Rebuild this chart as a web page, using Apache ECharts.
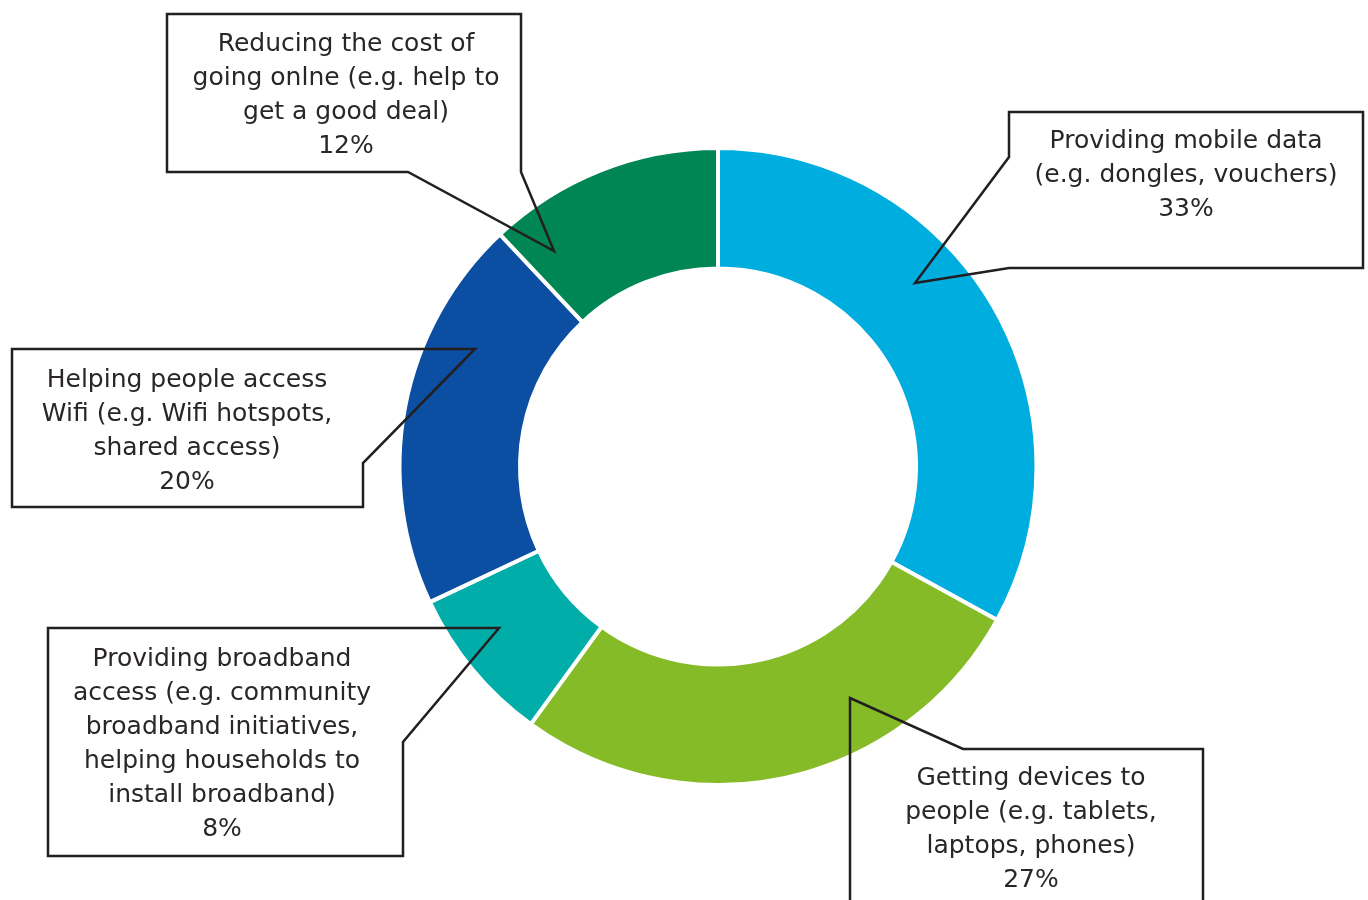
<!DOCTYPE html>
<html>
<head>
<meta charset="utf-8">
<script src="https://cdn.jsdelivr.net/npm/echarts@6/dist/echarts.min.js"></script>
<style>
  html, body { margin: 0; padding: 0; background: #fff; }
  #main { width: 1368px; height: 900px; }
</style>
</head>
<body>
<div id="main"></div>
<script>
// categories + values (clockwise from 12 o'clock)
const categories = [
  'Providing mobile data\n(e.g. dongles, vouchers)',
  'Getting devices to\npeople (e.g. tablets,\nlaptops, phones)',
  'Providing broadband\naccess (e.g. community\nbroadband initiatives,\nhelping households to\ninstall broadband)',
  'Helping people access\nWifi (e.g. Wifi hotspots,\nshared access)',
  'Reducing the cost of\ngoing onlne (e.g. help to\nget a good deal)'
];
const values = [33, 27, 8, 20, 12];
const colors = ['#00ADDF', '#84BB27', '#00ADA8', '#0C4EA2', '#008555'];

// where each callout text sits
const labelCenters = [[1186, 175], [1031, 829], [222, 744], [187, 431], [346, 95]];
// callout outlines
const callouts = [
  [[1009, 112], [1363, 112], [1363, 268], [1009, 268], [915, 283], [1009, 157]],
  [[850, 698], [963, 749], [1203, 749], [1203, 912], [850, 912]],
  [[48, 628], [499, 628], [403, 742], [403, 856], [48, 856]],
  [[12, 349], [475, 349], [363, 463], [363, 507], [12, 507]],
  [[167, 14], [521, 14], [521, 172], [554, 251], [408, 172], [167, 172]]
];

let myChart = echarts.init(document.getElementById('main'));

let option = {
  animation: false,
  backgroundColor: '#fff',
  graphic: callouts.map(pts => ({
    type: 'polygon',
    z: 100,
    silent: true,
    shape: { points: pts },
    style: { fill: null, stroke: '#231f20', lineWidth: 2.5, lineJoin: 'miter' }
  })),
  series: [{
    type: 'pie',
    center: [718, 466.5],
    radius: [198, 318.5],
    startAngle: 90,
    clockwise: true,
    silent: true,
    itemStyle: { borderColor: '#fff', borderWidth: 4 },
    label: {
      show: true,
      position: 'inside',
      formatter: p => p.name + '\n' + p.value + '%',
      fontFamily: 'DejaVu Sans',
      fontSize: 25,
      lineHeight: 34,
      color: '#2a2627',
      align: 'center'
    },
    labelLine: { show: false },
    labelLayout: params => ({
      x: labelCenters[params.dataIndex][0],
      y: labelCenters[params.dataIndex][1],
      align: 'center',
      verticalAlign: 'middle'
    }),
    emphasis: { disabled: true },
    data: categories.map((c, i) => ({
      name: c,
      value: values[i],
      itemStyle: { color: colors[i] }
    }))
  }]
};

myChart.setOption(option);
</script>
</body>
</html>
